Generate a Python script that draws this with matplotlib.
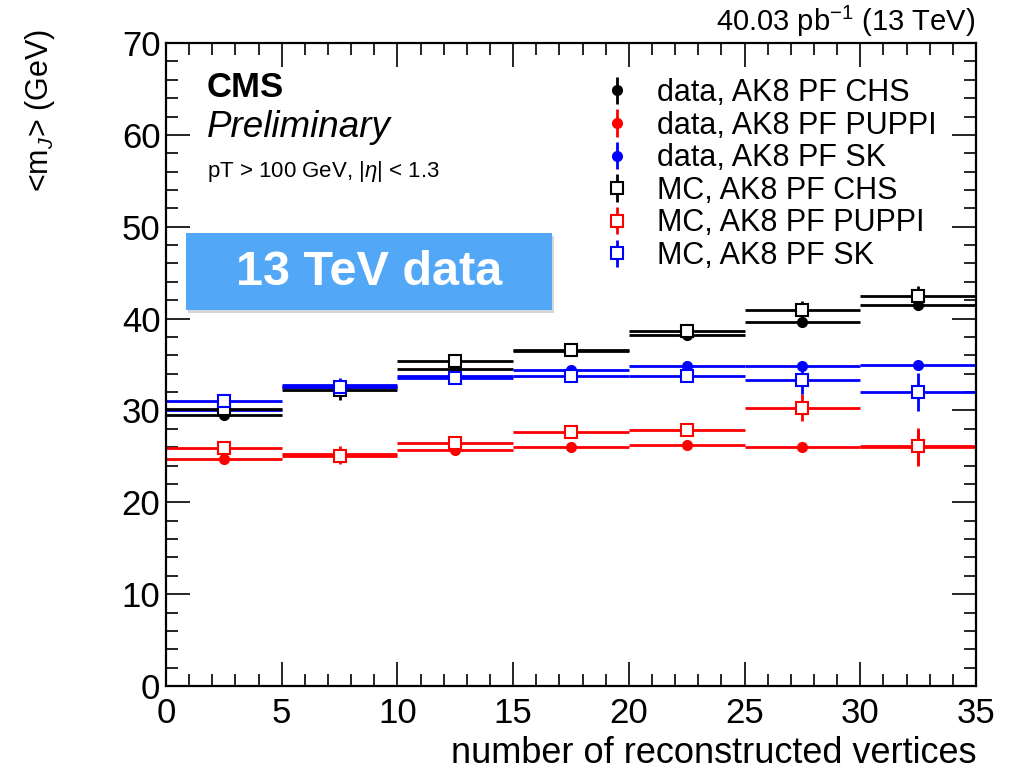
import matplotlib
matplotlib.use("Agg")
import matplotlib.pyplot as plt
from matplotlib.container import ErrorbarContainer
from matplotlib.legend_handler import HandlerErrorbar
from matplotlib.patches import Rectangle
from matplotlib.ticker import MultipleLocator

plt.rcParams['font.family'] = ['Liberation Sans', 'DejaVu Sans']
plt.rcParams['mathtext.fontset'] = 'custom'
plt.rcParams['mathtext.rm'] = 'Liberation Sans'
plt.rcParams['mathtext.it'] = 'Liberation Sans:italic'

# bins of reconstructed vertices
bin_centers = [2.5, 7.5, 12.5, 17.5, 22.5, 27.5, 32.5]
bin_half = [2.5] * 7

# mean jet mass (GeV) per bin
data_chs = [29.5, 32.5, 34.5, 36.5, 38.2, 39.6, 41.5]
data_chs_err = [0.2, 0.3, 0.2, 0.2, 0.2, 0.2, 0.3]
data_puppi = [24.7, 25.3, 25.7, 26.0, 26.2, 26.0, 26.0]
data_puppi_err = [0.2, 0.8, 0.2, 0.2, 0.2, 0.2, 2.0]
data_sk = [30.0, 32.8, 33.7, 34.4, 34.8, 34.8, 35.0]
data_sk_err = [0.2, 0.7, 0.2, 0.2, 0.2, 0.2, 0.3]
mc_chs = [30.2, 32.2, 35.4, 36.6, 38.7, 40.9, 42.5]
mc_chs_err = [0.3, 1.1, 0.3, 0.3, 0.4, 1.0, 1.0]
mc_puppi = [25.9, 25.0, 26.5, 27.6, 27.9, 30.3, 26.1]
mc_puppi_err = [0.3, 0.8, 0.3, 0.3, 0.5, 1.5, 2.0]
mc_sk = [31.0, 32.6, 33.5, 33.8, 33.8, 33.3, 32.0]
mc_sk_err = [0.3, 0.6, 0.3, 0.3, 0.4, 1.5, 2.1]

series = [
    ("data, AK8 PF CHS", data_chs, data_chs_err, "black", True),
    ("data, AK8 PF PUPPI", data_puppi, data_puppi_err, "red", True),
    ("data, AK8 PF SK", data_sk, data_sk_err, "blue", True),
    ("MC, AK8 PF CHS", mc_chs, mc_chs_err, "black", False),
    ("MC, AK8 PF PUPPI", mc_puppi, mc_puppi_err, "red", False),
    ("MC, AK8 PF SK", mc_sk, mc_sk_err, "blue", False),
]

fig = plt.figure(figsize=(10.09, 7.75), dpi=100)
ax = fig.add_axes([0.1645, 0.1148, 0.8028, 0.8297])

for label, y, yerr, col, filled in series:
    if filled:
        ax.errorbar(bin_centers, y, xerr=bin_half, yerr=yerr, fmt='o', color=col,
                    ms=7, lw=2, capsize=0, label=label)
    else:
        ax.errorbar(bin_centers, y, xerr=bin_half, yerr=yerr, fmt='s', color=col,
                    mfc='white', mec=col, mew=1.5, ms=8, lw=2, capsize=0, label=label)

ax.set_xlim(0, 35)
ax.set_ylim(0, 70)
ax.xaxis.set_major_locator(MultipleLocator(5))
ax.xaxis.set_minor_locator(MultipleLocator(1))
ax.yaxis.set_major_locator(MultipleLocator(10))
ax.yaxis.set_minor_locator(MultipleLocator(2))
ax.tick_params(which='both', direction='in', top=True, right=True, width=1.2)
ax.tick_params(which='major', length=17, labelsize=25)
ax.tick_params(which='minor', length=8.5)
ax.tick_params(axis='x', pad=8)
ax.tick_params(axis='y', pad=4)
for s in ax.spines.values():
    s.set_linewidth(1.6)

ax.set_xlabel("number of reconstructed vertices", fontsize=26, loc='right')
fig.text(0.04, 0.962, r"<m$_J$> (GeV)", rotation=90, fontsize=22, ha='center', va='top')

fig.text(0.967, 0.960, r"40.03 pb$^{-1}$ (13 TeV)", fontsize=21, ha='right', va='baseline')
fig.text(0.205, 0.875, "CMS", fontsize=25, fontweight='bold')
fig.text(0.205, 0.823, "Preliminary", fontsize=26.5, fontstyle='italic')
fig.text(0.205, 0.771, r"pT > 100 GeV, |$\eta$| < 1.3", fontsize=16)

handles, labels = ax.get_legend_handles_labels()
ax.legend(handles, labels, loc='upper left', bbox_to_anchor=(0.581, 0.919),
          bbox_transform=fig.transFigure, frameon=False, fontsize=22,
          handlelength=1.0, handletextpad=0.8, labelspacing=0.085, borderpad=0,
          handler_map={ErrorbarContainer: HandlerErrorbar(xerr_size=0, yerr_size=0.45)})

# blue label box with a soft drop shadow
fig.patches.append(Rectangle((0.1863, 0.5965), 0.3627, 0.0994, transform=fig.transFigure,
                             facecolor='#bbbbbb', edgecolor='none', alpha=0.6, zorder=5))
fig.patches.append(Rectangle((0.1843, 0.6000), 0.3627, 0.0994, transform=fig.transFigure,
                             facecolor='#53a7f7', edgecolor='none', zorder=6))
fig.text(0.3657, 0.649, "13 TeV data", fontsize=35, fontweight='bold', color='white',
         ha='center', va='center', zorder=7)

fig.savefig("out.png", dpi=100)
